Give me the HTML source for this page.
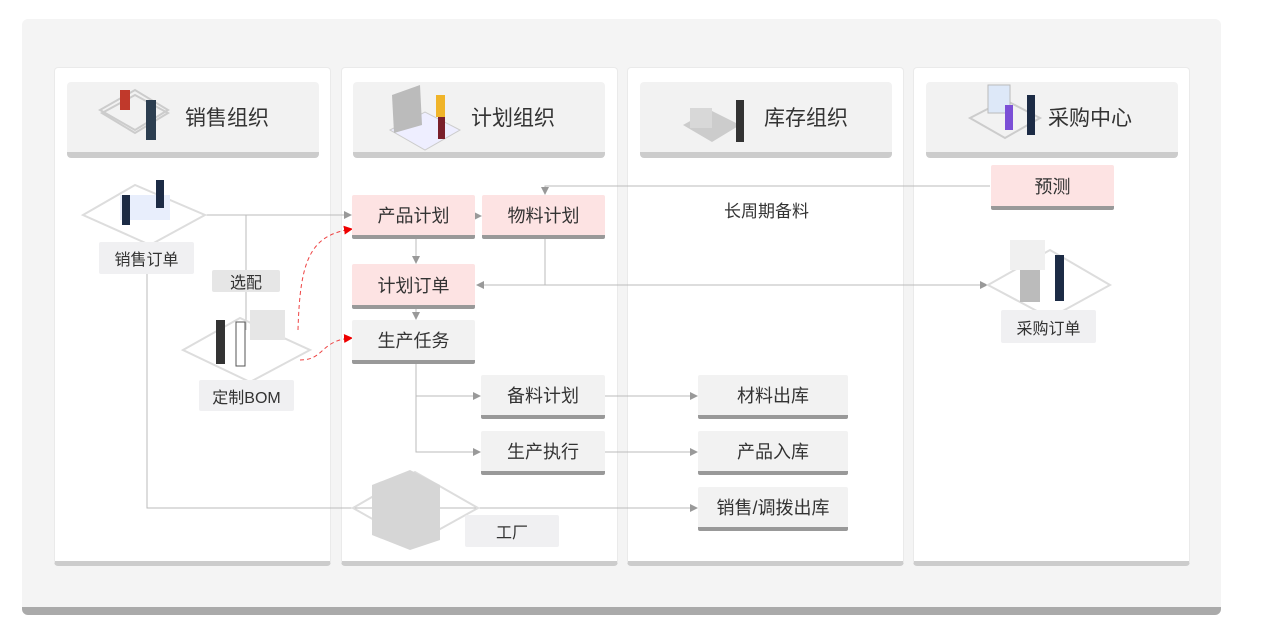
<!DOCTYPE html>
<html><head><meta charset="utf-8"><style>
*{margin:0;padding:0;box-sizing:border-box}
body{width:1268px;height:636px;background:#fff;position:relative;overflow:hidden;font-family:"Liberation Sans","Noto Sans CJK SC",sans-serif;color:#333}
.abs{position:absolute}
.outer{left:22px;top:19px;width:1199px;height:596px;background:#f4f4f4;border-radius:6px;border-bottom:8px solid #aaa}
.col{top:67px;height:499px;width:277px;background:#fff;border-radius:4px;border:1px solid #eaeaea;border-bottom:5px solid #ccc}
.hd{top:82px;height:76px;width:252px;background:#f2f2f2;border-radius:4px;border-bottom:6px solid #ccc;font-size:21px;display:flex;align-items:center;padding-left:118px;color:#333}
.b{display:flex;align-items:center;justify-content:center;font-size:18px;background:#f2f2f2;border-bottom:4px solid #999;border-radius:2px;color:#333}
.p{background:#fde3e3}
.l{display:flex;align-items:center;justify-content:center;font-size:16px;background:#f0f0f2;color:#333;border-radius:2px}
svg{position:absolute;left:0;top:0}
</style></head><body>
<div class="abs outer"></div>
<div class="abs col" style="left:54px"></div>
<div class="abs col" style="left:341px"></div>
<div class="abs col" style="left:627px"></div>
<div class="abs col" style="left:913px"></div>
<div class="abs hd" style="left:67px">销售组织</div>
<div class="abs hd" style="left:353px">计划组织</div>
<div class="abs hd" style="left:640px;padding-left:124px">库存组织</div>
<div class="abs hd" style="left:926px;padding-left:122px">采购中心</div>

<svg width="1268" height="636">
<defs>
<marker id="a" markerWidth="8" markerHeight="8" refX="7" refY="4" orient="auto" markerUnits="userSpaceOnUse"><path d="M0,0 L8,4 L0,8z" fill="#999"/></marker>
<marker id="r" markerWidth="9" markerHeight="9" refX="8" refY="4.5" orient="auto" markerUnits="userSpaceOnUse"><path d="M0,0 L9,4.5 L0,9z" fill="#e00"/></marker>
</defs>
<g stroke="#bbb" stroke-width="1" fill="none">
<path d="M205 215 H351" marker-end="url(#a)"/>
<path d="M246 215 V330"/>
<path d="M147 273 V508 H697" marker-end="url(#a)"/>
<path d="M990 186 H545 V194" marker-end="url(#a)"/>
<path d="M545 238 V285"/>
<path d="M545 285 H477" marker-end="url(#a)"/>
<path d="M545 285 H987" marker-end="url(#a)"/>
<path d="M476 216 H481" marker-end="url(#a)"/>
<path d="M416 238 V263" marker-end="url(#a)"/>
<path d="M416 308 V319" marker-end="url(#a)"/>
<path d="M416 363 V452 H480" marker-end="url(#a)"/>
<path d="M416 396 H480" marker-end="url(#a)"/>
<path d="M605 396 H697" marker-end="url(#a)"/>
<path d="M605 452 H697" marker-end="url(#a)"/>
</g>
<g stroke="#e44" stroke-width="1" stroke-dasharray="4,3" fill="none">
<path d="M298 330 C300 260, 310 235, 352 229" marker-end="url(#r)"/>
<path d="M300 360 C325 360, 320 340, 352 338" marker-end="url(#r)"/>
</g>
<!-- icons -->
<g fill="none" stroke="#ccc" stroke-width="2">
<path d="M100 150 L135 130 L168 150 L135 170z" transform="translate(0,-40) scale(1)"/>
<path d="M83 215 L135 185 L205 215 L150 245z" stroke="#ddd"/>
<path d="M183 350 L240 318 L310 350 L250 382z" stroke="#ddd"/>
<path d="M988 285 L1050 250 L1110 285 L1050 318z" stroke="#ddd"/>
<path d="M353 508 L415 472 L478 508 L415 543z" stroke="#ddd"/>
</g>
<rect x="120" y="195" width="50" height="25" fill="#e8eefc"/>
<rect x="122" y="195" width="8" height="30" fill="#1c2b45"/>
<rect x="156" y="180" width="8" height="28" fill="#1c2b45"/>
<rect x="216" y="320" width="9" height="44" fill="#333"/>
<rect x="236" y="322" width="9" height="44" fill="#fff" stroke="#555"/>
<rect x="250" y="310" width="35" height="30" fill="#e6e6e6"/>
<rect x="1020" y="270" width="20" height="32" fill="#bbb"/>
<rect x="1055" y="255" width="9" height="46" fill="#1c2b45"/>
<rect x="1010" y="240" width="35" height="30" fill="#f0f0f0"/>
<path d="M372 485 L410 470 L440 485 L440 540 L410 550 L372 535z" fill="#d6d6d6"/>
<!-- header icons -->
<path d="M102 113 L135 95 L168 113 L135 133z" fill="none" stroke="#ccc" stroke-width="2"/>
<rect x="120" y="90" width="10" height="20" fill="#c0392b"/>
<rect x="146" y="100" width="10" height="40" fill="#2c3e50"/>
<path d="M390 130 L425 112 L460 130 L425 150z" fill="#eef" stroke="#ccc"/>
<path d="M392 95 L420 85 L422 125 L394 133z" fill="#bbb"/>
<rect x="436" y="95" width="9" height="22" fill="#f0b429"/>
<rect x="438" y="117" width="7" height="22" fill="#7a1f2b"/>
<path d="M683 125 L710 110 L740 125 L712 142z" fill="#ccc"/>
<rect x="690" y="108" width="22" height="20" fill="#d8d8d8"/>
<rect x="736" y="100" width="8" height="42" fill="#333"/>
<path d="M970 118 L1005 100 L1040 118 L1005 138z" fill="none" stroke="#ccc" stroke-width="2"/>
<rect x="988" y="85" width="22" height="28" fill="#dde8f8" stroke="#bbb"/>
<rect x="1005" y="105" width="8" height="25" fill="#7b4fd6"/>
<rect x="1027" y="95" width="8" height="40" fill="#1c2b45"/>
</svg>

<div class="abs b p" style="left:352px;top:195px;width:123px;height:44px">产品计划</div>
<div class="abs b p" style="left:482px;top:195px;width:123px;height:44px">物料计划</div>
<div class="abs b p" style="left:352px;top:264px;width:123px;height:45px">计划订单</div>
<div class="abs b" style="left:352px;top:320px;width:123px;height:44px">生产任务</div>
<div class="abs b" style="left:481px;top:375px;width:124px;height:44px">备料计划</div>
<div class="abs b" style="left:481px;top:431px;width:124px;height:44px">生产执行</div>
<div class="abs b" style="left:698px;top:375px;width:150px;height:44px">材料出库</div>
<div class="abs b" style="left:698px;top:431px;width:150px;height:44px">产品入库</div>
<div class="abs b" style="left:698px;top:487px;width:150px;height:44px">销售/调拨出库</div>
<div class="abs b p" style="left:991px;top:165px;width:123px;height:45px">预测</div>
<div class="abs l" style="left:465px;top:515px;width:94px;height:32px">工厂</div>
<div class="abs l" style="left:1001px;top:310px;width:95px;height:33px">采购订单</div>
<div class="abs l" style="left:99px;top:242px;width:95px;height:32px">销售订单</div>
<div class="abs l" style="left:212px;top:270px;width:68px;height:22px;background:#e6e6e6">选配</div>
<div class="abs l" style="left:199px;top:380px;width:95px;height:31px">定制BOM</div>
<div class="abs" style="left:724px;top:197px;font-size:17px;color:#333">长周期备料</div>
</body></html>
